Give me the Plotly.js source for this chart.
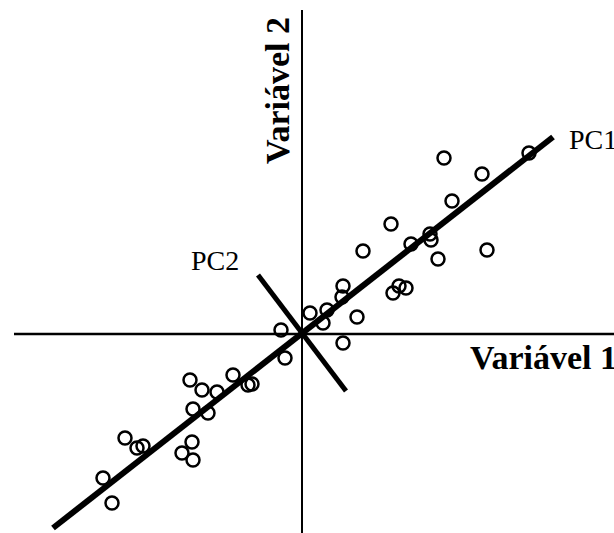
<!DOCTYPE html>
<html>
<head>
<meta charset="utf-8">
<script src="https://cdn.plot.ly/plotly-3.0.1.min.js"></script>
<style>html,body{margin:0;padding:0;background:#fff;}#chart{width:614px;height:533px;}</style>
</head>
<body>
<div id="chart"></div>
<script>
// Observations (Variável 1, Variável 2)
var var1 = [142, 180, 227, 150, 89, 61, 109, 129, 128, 136, 185, 41, 40, 91, 97, 104, 55, 8, 25, 21, 41,
            -21, -17, -69, -54, -50, -112, -100, -85, -109, -94, -177, -165, -159, -110, -120, -109, -199, -190];
var var2 = [175, 159, 180, 132, 109, 82, 89, 93, 99, 74, 83, 47, 36, 40, 47, 45, 16, 20, 23, 10, -10,
            3, -25, -42, -52, -51, -47, -57, -59, -76, -80, -105, -115, -113, -109, -120, -127, -145, -170];
// Principal component directions
var pc1X = [-249, 251], pc1Y = [-195, 196];
var pc2X = [-44, 44],  pc2Y = [58, -58];
// Labels
var labelX = "Variável 1", labelY = "Variável 2", labelPC1 = "PC1", labelPC2 = "PC2";

var serif = "Liberation Serif, Times New Roman, serif";
var traces = [
  {x: pc1X, y: pc1Y, mode: "lines", line: {color: "#000", width: 6}, hoverinfo: "skip"},
  {x: pc2X, y: pc2Y, mode: "lines", line: {color: "#000", width: 5}, hoverinfo: "skip"},
  {x: var1, y: var2, mode: "markers", marker: {symbol: "circle-open", size: 13, color: "#000", line: {width: 2.5, color: "#000"}}}
];
var layout = {
  width: 614, height: 533,
  margin: {l: 0, r: 0, t: 0, b: 0},
  paper_bgcolor: "#fff", plot_bgcolor: "#fff",
  showlegend: false,
  xaxis: {range: [-302, 312], visible: false, fixedrange: true},
  yaxis: {range: [-200, 333], visible: false, fixedrange: true},
  shapes: [
    {type: "line", x0: -288, x1: 312, y0: -1, y1: -1, line: {color: "#000", width: 2.5}},
    {type: "line", x0: 0, x1: 0, y0: 323, y1: -200, line: {color: "#000", width: 2}}
  ],
  annotations: [
    {x: 166, y: -24, text: "<b>" + labelX + "</b>", showarrow: false, xanchor: "left", yanchor: "middle",
     font: {family: serif, size: 34, color: "#000"}},
    {x: -25, y: 242, text: "<b>" + labelY + "</b>", showarrow: false, textangle: -90, xanchor: "center", yanchor: "middle",
     font: {family: serif, size: 34, color: "#000"}},
    {x: -113, y: 73, text: labelPC2, showarrow: false, xanchor: "left", yanchor: "middle",
     font: {family: serif, size: 28, color: "#000"}},
    {x: 265, y: 194, text: labelPC1, showarrow: false, xanchor: "left", yanchor: "middle",
     font: {family: serif, size: 28, color: "#000"}}
  ]
};
Plotly.newPlot("chart", traces, layout, {displayModeBar: false, staticPlot: true});
</script>
</body>
</html>
